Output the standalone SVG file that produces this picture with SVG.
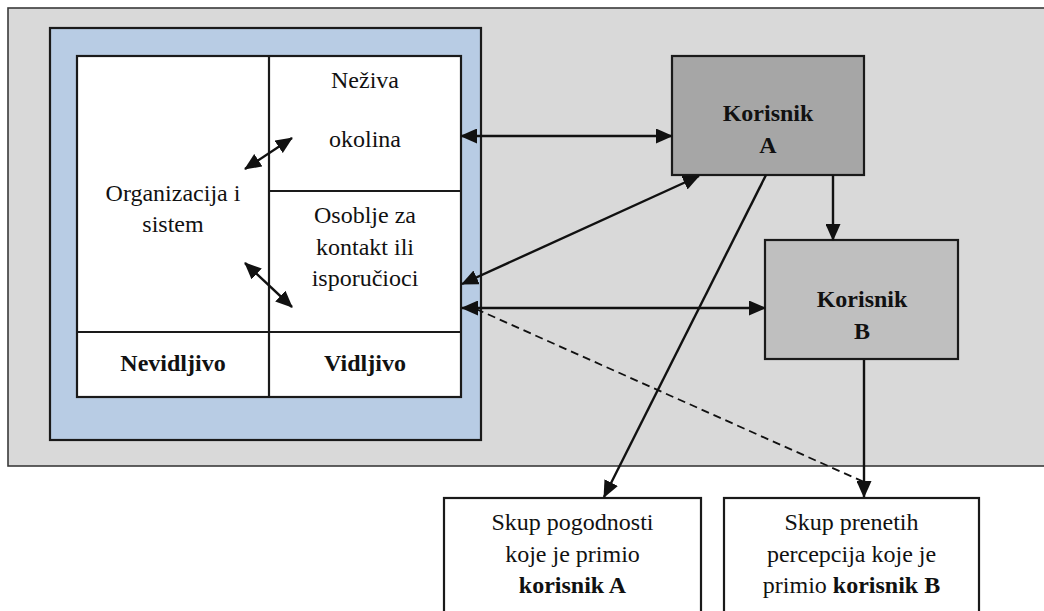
<svg xmlns="http://www.w3.org/2000/svg" width="1044" height="611" viewBox="0 0 1044 611" font-family="Liberation Serif, Times New Roman, serif">
  <style>
    text { font-family: 'Liberation Serif', 'Times New Roman', serif; font-size: 24px; fill: #111; text-anchor: middle; }
    .b { font-weight: bold; }
    .frame { stroke: #1a1a1a; stroke-width: 2.2; }
    .cell { fill: #ffffff; stroke: #1a1a1a; stroke-width: 2.2; }
    .conn { fill: none; stroke: #111; stroke-width: 2.4; }
    .dash { fill: none; stroke: #111; stroke-width: 1.8; stroke-dasharray: 8 5; }
  </style>
  <defs>
    <marker id="head" markerUnits="userSpaceOnUse" markerWidth="17" markerHeight="15" refX="16" refY="7.5" orient="auto-start-reverse">
      <path d="M0,0 L17,7.5 L0,15 z" fill="#111"/>
    </marker>
  </defs>

  <!-- background panel -->
  <rect x="8" y="8" width="1050" height="458" fill="#d9d9d9" stroke="#3a3a3a" stroke-width="1.6"/>

  <!-- service organisation block -->
  <g id="organizacija">
    <rect x="50" y="28" width="431" height="412" fill="#b8cce4" class="frame"/>
    <rect x="77" y="56" width="384" height="341" class="cell"/>
    <line x1="269" y1="56" x2="269" y2="397" class="frame"/>
    <line x1="269" y1="191" x2="461" y2="191" class="frame"/>
    <line x1="77" y1="332" x2="461" y2="332" class="frame"/>
    <text x="173" y="201">Organizacija i</text>
    <text x="173" y="232">sistem</text>
    <text x="365" y="88">Neživa</text>
    <text x="365" y="147">okolina</text>
    <text x="365" y="223">Osoblje za</text>
    <text x="365" y="255">kontakt ili</text>
    <text x="365" y="286">isporučioci</text>
    <text x="173" y="371" class="b">Nevidljivo</text>
    <text x="365" y="371" class="b">Vidljivo</text>
  </g>

  <g id="korisnik-a">
    <rect x="672" y="56" width="192" height="119" fill="#a6a6a6" class="frame"/>
    <text x="768" y="121" class="b">Korisnik</text>
    <text x="768" y="153" class="b">A</text>
  </g>

  <g id="korisnik-b">
    <rect x="765" y="240" width="193" height="119" fill="#bfbfbf" class="frame"/>
    <text x="862" y="307" class="b">Korisnik</text>
    <text x="862" y="339" class="b">B</text>
  </g>

  <g id="pogodnosti-a">
    <rect x="444" y="498" width="257" height="130" class="cell"/>
    <text x="572.5" y="530">Skup pogodnosti</text>
    <text x="572.5" y="562">koje je primio</text>
    <text x="572.5" y="593" class="b">korisnik A</text>
  </g>

  <g id="percepcije-b">
    <rect x="724" y="498" width="255" height="130" class="cell"/>
    <text x="851.5" y="530">Skup prenetih</text>
    <text x="851.5" y="562">percepcija koje je</text>
    <text x="851.5" y="593">primio <tspan class="b">korisnik B</tspan></text>
  </g>

  <g id="connectors">
    <line x1="245" y1="169" x2="292" y2="138" class="conn" marker-start="url(#head)" marker-end="url(#head)"/>
    <line x1="245" y1="263" x2="292" y2="307" class="conn" marker-start="url(#head)" marker-end="url(#head)"/>
    <line x1="461" y1="136" x2="672" y2="136" class="conn" marker-start="url(#head)" marker-end="url(#head)"/>
    <line x1="462" y1="284" x2="699" y2="176" class="conn" marker-start="url(#head)" marker-end="url(#head)"/>
    <line x1="462" y1="308" x2="765" y2="308" class="conn" marker-start="url(#head)" marker-end="url(#head)"/>
    <line x1="833" y1="175" x2="833" y2="240" class="conn" marker-end="url(#head)"/>
    <line x1="766" y1="175" x2="604" y2="497" class="conn" marker-end="url(#head)"/>
    <line x1="864" y1="360" x2="864" y2="497" class="conn" marker-end="url(#head)"/>
    <line x1="476" y1="309" x2="864" y2="482" class="dash"/>
  </g>
</svg>
